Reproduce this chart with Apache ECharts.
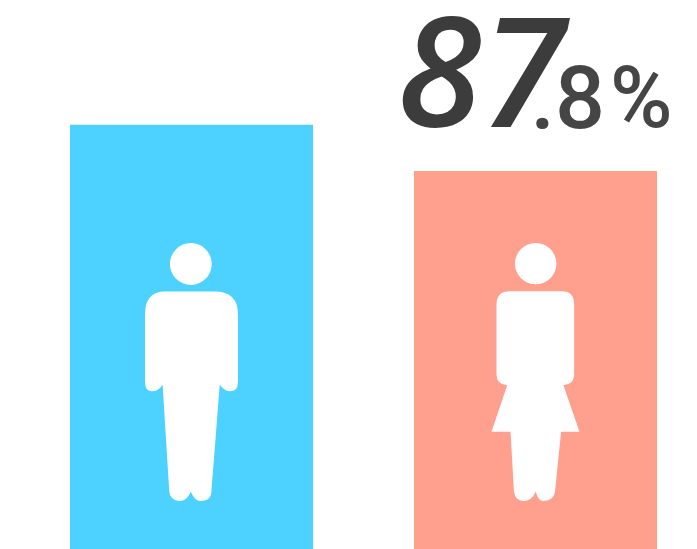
<!DOCTYPE html>
<html>
<head>
<meta charset="utf-8">
<title>87.8%</title>
<style>
  html, body { margin: 0; padding: 0; background: #fff; }
  #chart { width: 697px; height: 549px; }
</style>
<script src="https://cdn.jsdelivr.net/npm/echarts@6/dist/echarts.min.js"></script>
</head>
<body>
<div id="chart"></div>
<script>
// 数据
const categories = [0, 1]; // 男性, 女性
const barValues = [98.5, 87.8];
const barColors = ['#4dd2ff', '#ffa08f'];
const iconValues = [41.1, 41.1];

// 人形图标
const manIcon = 'path://M120 87A63 63 0 1 1 246 87A63 63 0 1 1 120 87ZM105 170H255Q325 170 325 240V440Q325 470 303 470Q285 470 270 450L245 770Q245 800 212 800Q195 800 183 772Q170 800 150 800Q120 800 118 770L98 450Q85 470 65 470Q45 470 45 440V240Q45 170 105 170Z';
const womanIcon = 'path://M105 87A62 62 0 1 1 229 87A62 62 0 1 1 105 87ZM90 170H245Q282 170 282 210V420Q282 450 250 452L298 592H243L225 770Q222 800 190 800Q175 800 167 772Q155 800 130 800Q105 800 102 770L92 592H35L82 452Q50 450 50 420V210Q50 170 90 170Z';

const chart = echarts.init(document.getElementById('chart'));

const barData = categories.map((c, i) => [c, barValues[i]]);

chart.setOption({
    animation: false,
    backgroundColor: '#fff',
    grid: { left: 0, top: 0, width: 697, height: 549 },
    // 柱子中心间距 344px
    xAxis: {
        type: 'value',
        min: -0.5567,
        max: 1.4695,
        show: false
    },
    yAxis: {
        type: 'value',
        min: 0,
        max: 127.5,
        show: false
    },
    series: [
        {
            type: 'bar',
            barWidth: 243,
            barGap: '-100%',
            silent: true,
            data: barData.map((d, i) => ({
                value: d,
                itemStyle: { color: barColors[i] },
                label: { show: i === 1 }
            })),
            label: {
                position: 'top',
                distance: 0,
                offset: [-54, -11],
                formatter: function (p) {
                    return String(p.value[1]).split('.')[0];
                },
                fontFamily: 'Open Sans',
                fontStyle: 'italic',
                fontWeight: 600,
                fontSize: 153,
                lineHeight: 153,
                color: '#3c3c3c'
            }
        },
        {
            // 小数部分和百分号单独一层，贴近大数字
            type: 'bar',
            barWidth: 243,
            barGap: '-100%',
            silent: true,
            itemStyle: { color: 'transparent' },
            data: barData.map((d, i) => ({
                value: d,
                label: { show: i === 1 }
            })),
            label: {
                position: 'top',
                distance: 0,
                offset: [66, -21],
                formatter: function (p) {
                    return '{num|.' + String(p.value[1]).split('.')[1] + '}{pct|%}';
                },
                rich: {
                    num: { fontFamily: 'Roboto', fontWeight: 500, fontSize: 88, lineHeight: 88, color: '#454545' },
                    pct: { fontFamily: 'Roboto', fontWeight: 500, fontSize: 85, lineHeight: 88, color: '#454545', padding: [0, 0, 0, 5] }
                }
            }
        },
        {
            type: 'scatter',
            silent: true,
            z: 5,
            data: [
                { value: [categories[0], iconValues[0]], symbol: manIcon, symbolSize: [93, 258] },
                { value: [categories[1], iconValues[1]], symbol: womanIcon, symbolSize: [88, 258] }
            ],
            itemStyle: { color: '#fff', opacity: 1 }
        }
    ]
});

window.addEventListener('resize', function () {
    chart.resize();
});
</script>
</body>
</html>
